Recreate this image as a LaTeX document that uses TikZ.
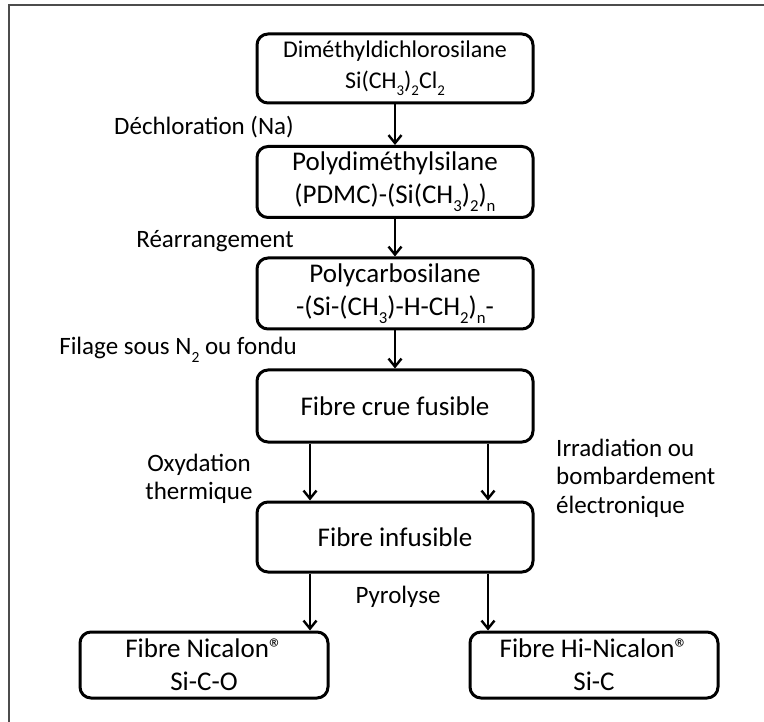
\documentclass[tikz,border=0pt]{standalone}
\usepackage{fontspec}
\setmainfont{Carlito}
\usetikzlibrary{arrows.meta,calc}
\newcommand\dn[1]{\raisebox{-0.3em}{\scalebox{0.62}{#1}}}
\newcommand\regmark{®}
\tikzset{
  box/.style={draw, line width=3pt, rounded corners=11pt, minimum width=276pt, inner sep=0pt, align=center, font=\fontsize{27}{33}\selectfont},
  lbl/.style={inner sep=0pt, font=\fontsize{25}{28.5}\selectfont},
  arr/.style={line width=2.4pt, -{Straight Barb[length=8pt,width=13pt,line width=2.4pt]}},
  frame/.style={draw=black!70, line width=1.6pt}
}
\begin{document}
\begin{tikzpicture}[x=1pt,y=-1pt]
\useasboundingbox (0,0) rectangle (764,722);
\coordinate (fa) at (9,722);
\coordinate (fb) at (9,5);
\coordinate (fc) at (764,5);
\draw[frame] (fa) -- (fb) -- (fc);

\node[box, minimum height=69pt, font=\fontsize{24}{31}\selectfont] (b1) at (395,68.5) {Diméthyldichlorosilane\\Si(CH\dn{3})\dn{2}Cl\dn{2}};
\node[box, minimum height=71pt] (b2) at (395,182) {Polydiméthylsilane\\(PDMC)-(Si(CH\dn{3})\dn{2})\dn{n}};
\node[box, minimum height=71pt] (b3) at (395,293.5) {Polycarbosilane\\-(Si-(CH\dn{3})-H-CH\dn{2})\dn{n}-};
\node[box, minimum height=72pt] (b4) at (395,406) {Fibre crue fusible};
\node[box, minimum height=70pt] (b5) at (395,537) {Fibre infusible};
\node[box, minimum height=66pt, minimum width=248pt] (b6) at (204,665) {Fibre Nicalon\regmark\\Si-C-O};
\node[box, minimum height=66pt, minimum width=248pt] (b7) at (594,665) {Fibre Hi-Nicalon\regmark\\Si-C};

\draw[arr] (b1) -- (b2);
\draw[arr] (b2) -- (b3);
\draw[arr] (b3) -- (b4);
\draw[arr] ([xshift=-85pt]b4.south) -- ([xshift=-85pt]b5.north);
\draw[arr] ([xshift=93pt]b4.south) -- ([xshift=93pt]b5.north);
\draw[arr] ([xshift=-85pt]b5.south) -- ([xshift=-85pt]b5.south |- b6.north);
\draw[arr] ([xshift=93pt]b5.south) -- ([xshift=93pt]b5.south |- b7.north);

\node[lbl] (l1) at (204,127) {Déchloration (Na)};
\node[lbl] (l2) at (215,241) {Réarrangement};
\node[lbl] (l3) at (178,350) {Filage sous N\dn{2} ou fondu};
\node[lbl, align=center] (l4) at (199,479) {Oxydation\\thermique};
\node[lbl, align=left, anchor=west] (l5) at (556,478) {Irradiation ou\\bombardement\\électronique};
\node[lbl] (l6) at (398,597) {Pyrolyse};
\end{tikzpicture}
\end{document}
